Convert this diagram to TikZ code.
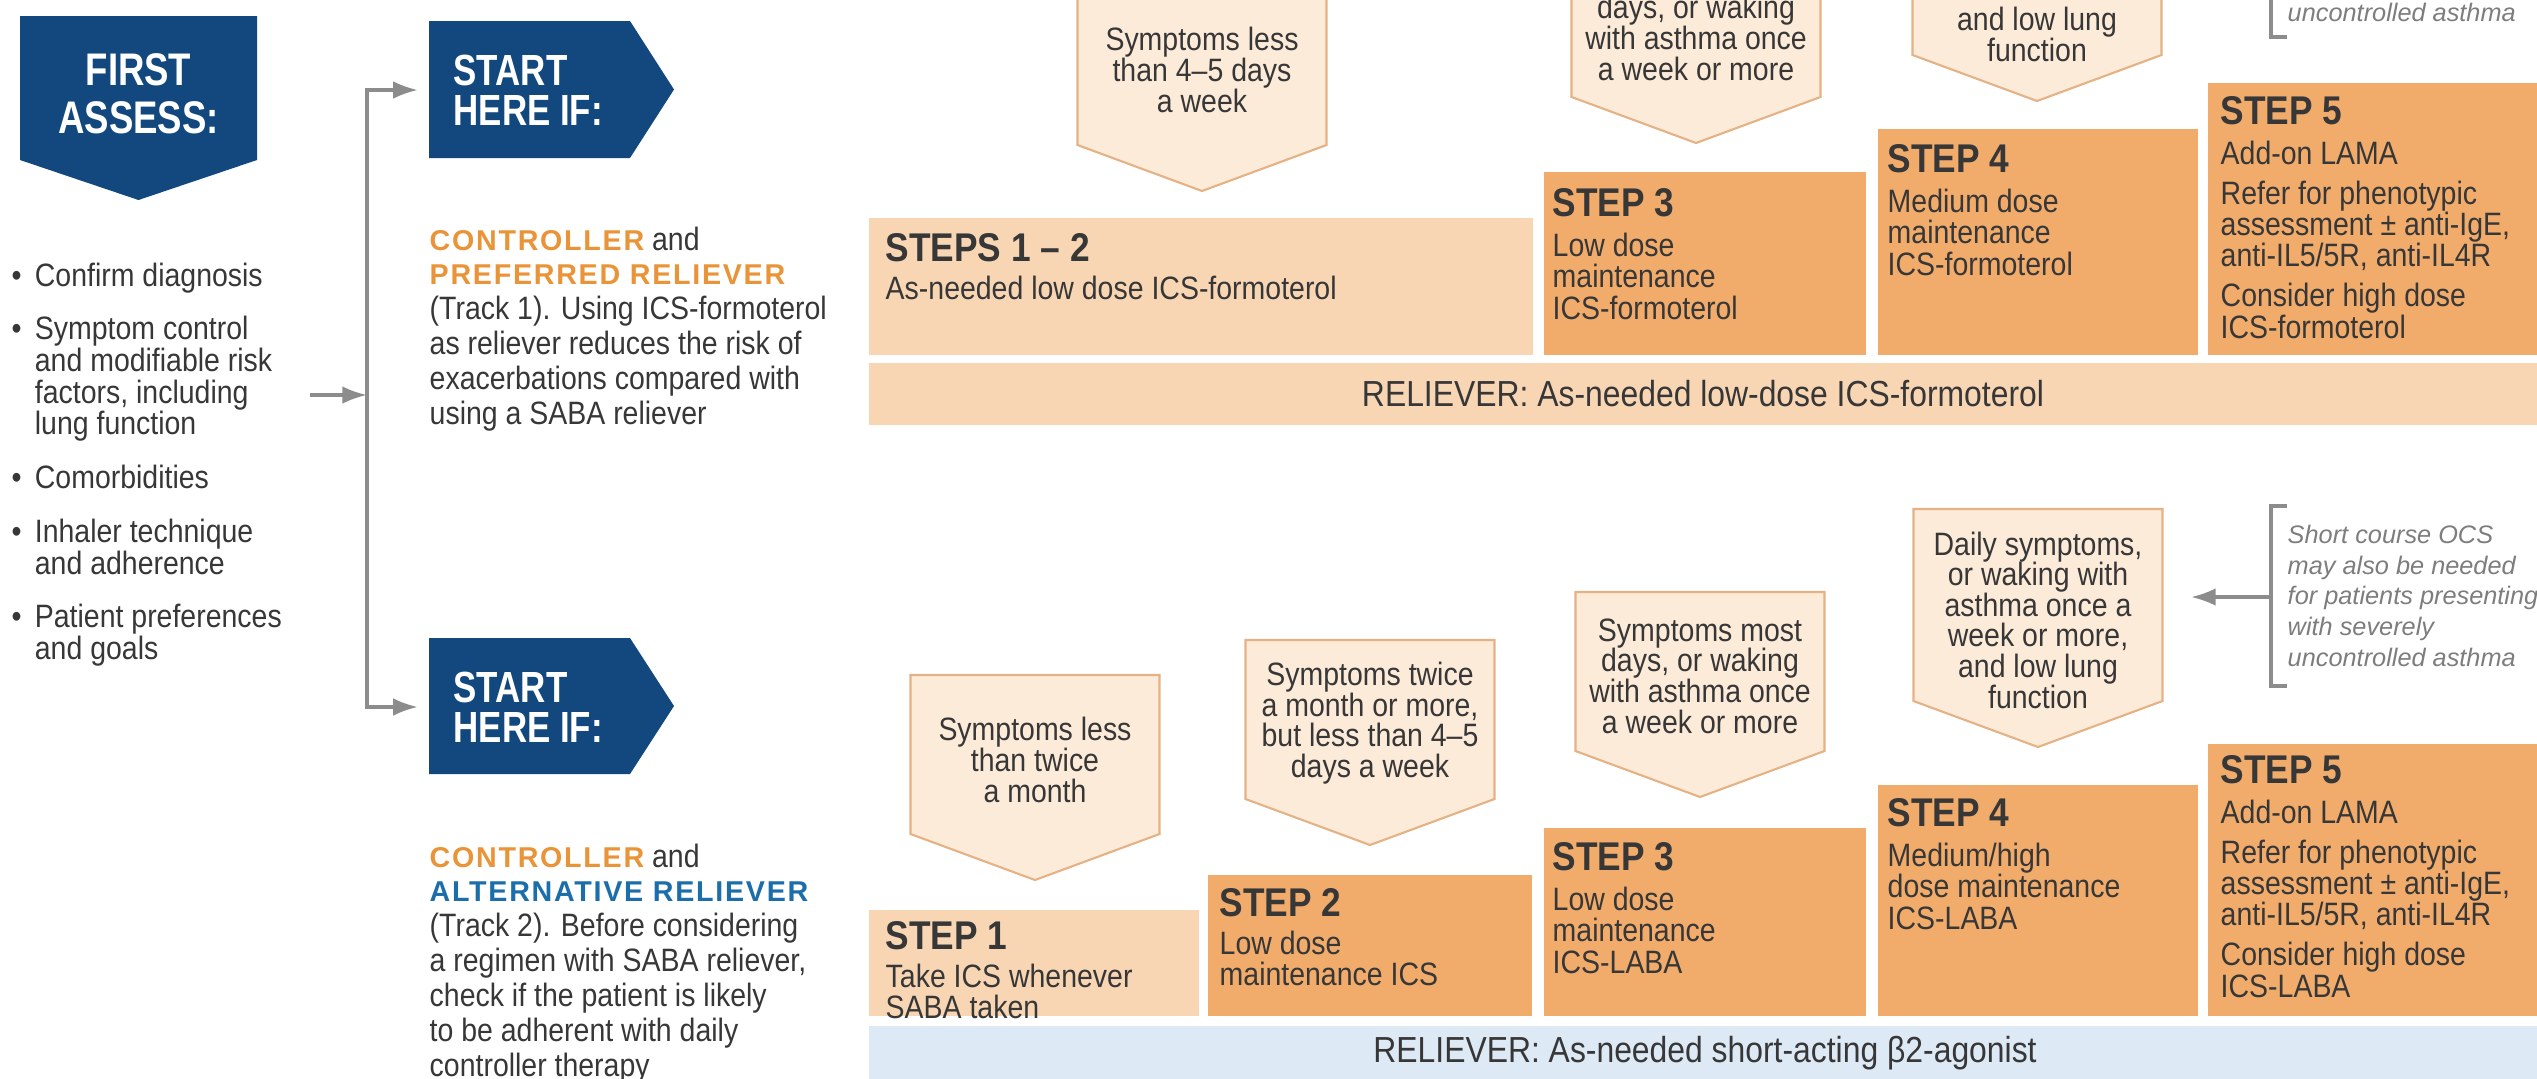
\documentclass[tikz,border=0pt]{standalone}
\usepackage{fontspec}
\setmainfont{Liberation Sans}[FakeStretch=0.88]
\newfontfamily\tagfont{Liberation Sans}[FakeStretch=0.8]
\newfontfamily\capfont{Liberation Sans}[LetterSpace=6]
\newfontfamily\notefont{Liberation Sans}
\usetikzlibrary{arrows.meta}

\definecolor{navy}{RGB}{18,72,126}
\definecolor{stepdark}{RGB}{241,172,108}
\definecolor{steplight}{RGB}{248,214,180}
\definecolor{symfill}{RGB}{253,235,217}
\definecolor{symedge}{RGB}{228,178,132}
\definecolor{relblue}{RGB}{222,233,246}
\definecolor{ink}{RGB}{55,55,55}
\definecolor{linkgray}{RGB}{140,140,140}
\definecolor{ctlorange}{RGB}{233,148,56}
\definecolor{altblue}{RGB}{28,110,170}
\definecolor{notegray}{RGB}{125,125,125}

\newcommand\hd[1]{{\fontsize{11.4}{12}\selectfont\bfseries #1}}
\newcommand\ctl[2]{{\capfont\fontsize{8.15}{10}\selectfont\bfseries\color{#1}#2}}
\newcommand\blt{\makebox[6.6pt][l]{\textbullet}}
\newcommand\bind{\hspace*{6.6pt}}
\newcommand\symbox[6]{%
  \filldraw[symshape] (#2-124.5,#3) -- (#2+124.5,#3) -- (#2+124.5,#4)
    -- (#2,#4+46) -- (#2-124.5,#4) -- cycle;
  \node[symtext] (#1) at (#2,#5) {#6};}

\begin{document}
\begin{tikzpicture}[x=0.01cm,y=-0.01cm,>={Latex[length=7pt,width=5pt]},
  tag/.style={text=white,font=\tagfont\bfseries\fontsize{12.4}{11.4}\selectfont,align=left,inner sep=0pt},
  listtext/.style={anchor=north west,align=left,inner sep=0pt,text=ink,font=\fontsize{9.2}{9}\selectfont},
  desc/.style={anchor=north west,align=left,inner sep=0pt,text=ink,font=\fontsize{9.2}{9.9}\selectfont},
  steptext/.style={anchor=north west,align=left,inner sep=0pt,text=ink,font=\fontsize{9.2}{8.9}\selectfont},
  symshape/.style={fill=symfill,draw=symedge,line width=0.6pt},
  symtext/.style={align=center,inner sep=0pt,text=ink,font=\fontsize{9.2}{8.7}\selectfont},
  reltext/.style={text=ink,inner sep=0pt,font=\fontsize{10.3}{12}\selectfont},
  note/.style={anchor=north west,align=left,inner sep=0pt,text=notegray,font=\notefont\itshape\fontsize{7.2}{8.8}\selectfont},
  link/.style={draw=linkgray,line width=0.9pt}]

\useasboundingbox (0,0) rectangle (2537,1078);
\clip (0,0) rectangle (2537,1078);

% assess column
\fill[navy] (20,16) -- (257,16) -- (257,160) -- (138.5,200) -- (20,160) -- cycle;
\node[tag,align=center,font=\tagfont\bfseries\fontsize{13}{13.7}\selectfont] (first) at (138.5,94) {FIRST\\ASSESS:};
\node[listtext] (checks) at (11,262) {\blt Confirm diagnosis\\[6.3pt]\blt Symptom control\\\bind and modifiable risk\\\bind factors, including\\\bind lung function\\[6.3pt]\blt Comorbidities\\[6.3pt]\blt Inhaler technique\\\bind and adherence\\[6.3pt]\blt Patient preferences\\\bind and goals};

\fill[navy] (429,21) -- (630,21) -- (674,89.5) -- (630,158) -- (429,158) -- cycle;
\node[tag,anchor=west] (start1) at (453,90) {START\\HERE IF:};
\fill[navy] (429,638) -- (630,638) -- (674,706) -- (630,774) -- (429,774) -- cycle;
\node[tag,anchor=west] (start2) at (453,707) {START\\HERE IF:};

\node[desc] (track1) at (429,226) {\ctl{ctlorange}{CONTROLLER} and\\\ctl{ctlorange}{PREFERRED RELIEVER}\\(Track 1). Using ICS-formoterol\\as reliever reduces the risk of\\exacerbations compared with\\using a SABA reliever};
\node[desc] (track2) at (429,843) {\ctl{ctlorange}{CONTROLLER} and\\\ctl{altblue}{ALTERNATIVE RELIEVER}\\(Track 2). Before considering\\a regimen with SABA reliever,\\check if the patient is likely\\to be adherent with daily\\controller therapy};

\coordinate (lstout) at (310,395);
\coordinate (fork) at (367,395);
\draw[link,->] (lstout) -- (fork);
\draw[link,->,shorten >=10pt] (fork) |- (start1.west);
\draw[link,->,shorten >=10pt] (fork) |- (start2.west);

% track 1
\symbox{sym12}{1202}{-14}{145}{70}{Symptoms less\\than 4--5 days\\a week}
\symbox{sym3a}{1696}{-62}{97}{38}{days, or waking\\with asthma once\\a week or more}
\symbox{sym4a}{2037}{-137}{55}{34.5}{and low lung\\function}

\fill[steplight] (869,218) rectangle (1533,355);
\fill[stepdark] (1544,172) rectangle (1866,355);
\fill[stepdark] (1878,129) rectangle (2198,355);
\fill[stepdark] (2208,83) rectangle (2545,355);
\node[steptext] (st12) at (885,232.5) {\hd{STEPS 1 -- 2}\\[2pt]As-needed low dose ICS-formoterol};
\node[steptext] (st3a) at (1552,187.5) {\hd{STEP 3}\\[2.6pt]Low dose\\maintenance\\ICS-formoterol};
\node[steptext] (st4a) at (1887,143.5) {\hd{STEP 4}\\[2.6pt]Medium dose\\maintenance\\ICS-formoterol};
\node[steptext] (st5a) at (2220,95.5) {\hd{STEP 5}\\[2.6pt]Add-on LAMA\\[2.4pt]Refer for phenotypic\\assessment ± anti-IgE,\\anti-IL5/5R, anti-IL4R\\[2.4pt]Consider high dose\\ICS-formoterol};

\fill[steplight] (869,363) rectangle (2545,425);
\node[reltext] (rel1) at (1703,394) {RELIEVER: As-needed low-dose ICS-formoterol};

\draw[link] (2287,-140) -- (2271,-140) -- (2271,37) -- (2287,37);
\node[note] (ocs1) at (2287,2) {uncontrolled asthma};

% track 2
\symbox{sym1}{1035}{675}{834}{760}{Symptoms less\\than twice\\a month}
\symbox{sym2}{1370}{640}{799}{723}{Symptoms twice\\a month or more,\\but less than 4--5\\days a week}
\symbox{sym3b}{1700}{592}{751}{676}{Symptoms most\\days, or waking\\with asthma once\\a week or more}
\symbox{sym4b}{2038}{509}{701}{620}{Daily symptoms,\\or waking with\\asthma once a\\week or more,\\and low lung\\function}

\fill[steplight] (869,910) rectangle (1199,1016);
\fill[stepdark] (1208,875) rectangle (1532,1016);
\fill[stepdark] (1544,828) rectangle (1866,1016);
\fill[stepdark] (1878,785) rectangle (2198,1016);
\fill[stepdark] (2208,744) rectangle (2545,1016);
\node[steptext] (st1) at (885,920.5) {\hd{STEP 1}\\[2pt]Take ICS whenever\\SABA taken};
\node[steptext] (st2) at (1219,887.5) {\hd{STEP 2}\\[2pt]Low dose\\maintenance ICS};
\node[steptext] (st3b) at (1552,841.5) {\hd{STEP 3}\\[2.6pt]Low dose\\maintenance\\ICS-LABA};
\node[steptext] (st4b) at (1887,797.5) {\hd{STEP 4}\\[2.6pt]Medium/high\\dose maintenance\\ICS-LABA};
\node[steptext] (st5b) at (2220,754.5) {\hd{STEP 5}\\[2.6pt]Add-on LAMA\\[2.4pt]Refer for phenotypic\\assessment ± anti-IgE,\\anti-IL5/5R, anti-IL4R\\[2.4pt]Consider high dose\\ICS-LABA};

\fill[relblue] (869,1026) rectangle (2545,1090);
\node[reltext] (rel2) at (1705,1053) {RELIEVER: As-needed short-acting β2-agonist};

\node[note] (ocs2) at (2287,524) {Short course OCS\\may also be needed\\for patients presenting\\with severely\\uncontrolled asthma};
\draw[link] (2287,506) -- (2271,506) -- (2271,686) -- (2287,686);
\coordinate (ocsout) at (2271,597);
\coordinate (ocsin) at (2191,597);
\draw[link,->] (ocsout) -- (ocsin);
\end{tikzpicture}
\end{document}
